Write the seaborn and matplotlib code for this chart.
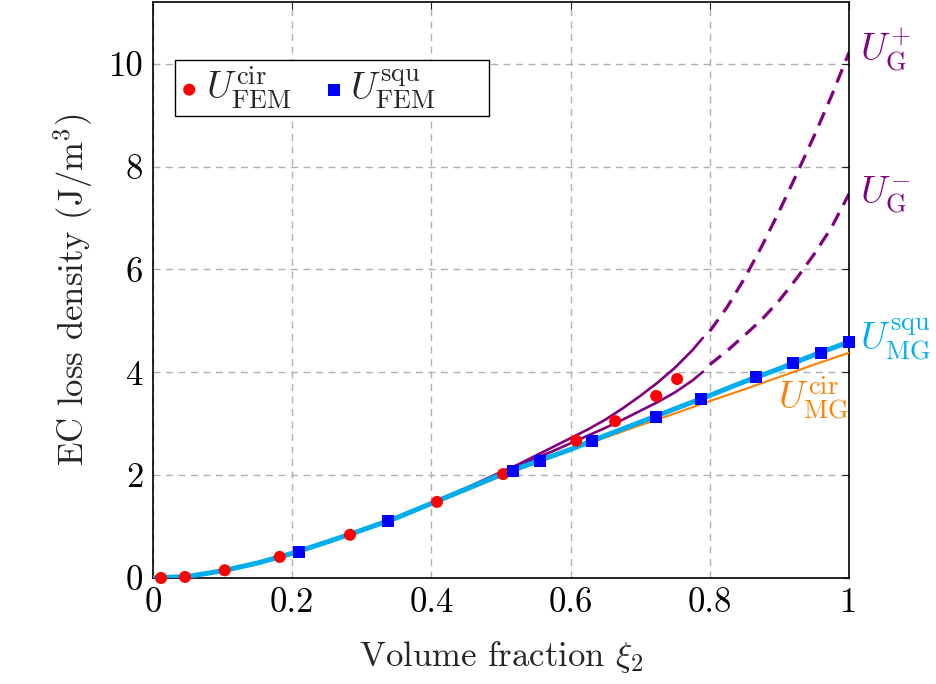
import numpy as np
import pandas as pd
import matplotlib
matplotlib.use("Agg")
import matplotlib.pyplot as plt
from matplotlib.patches import Rectangle
import seaborn as sns

# ---- data ----
x_grid = [0.0, 0.05, 0.1, 0.15, 0.2, 0.25, 0.3, 0.35, 0.4, 0.45, 0.5,
          0.55, 0.6, 0.65, 0.7, 0.75, 0.8, 0.85, 0.9, 0.95, 1.0]
mg_cir = [0.0, 0.03, 0.13, 0.28, 0.46, 0.68, 0.91, 1.16, 1.43, 1.70, 1.98,
          2.24, 2.49, 2.73, 2.97, 3.20, 3.44, 3.67, 3.91, 4.15, 4.38]
mg_squ = [0.0, 0.03, 0.14, 0.29, 0.48, 0.70, 0.93, 1.17, 1.45, 1.73, 2.01,
          2.26, 2.50, 2.77, 3.03, 3.29, 3.55, 3.82, 4.07, 4.34, 4.59]

g_x_solid = [0.0, 0.05, 0.1, 0.15, 0.2, 0.25, 0.3, 0.35, 0.4, 0.45, 0.5,
             0.525, 0.55, 0.575, 0.6, 0.625, 0.65, 0.675, 0.7, 0.725, 0.75,
             0.775, 0.79]
g_plus_solid = [0.0, 0.03, 0.14, 0.29, 0.48, 0.70, 0.93, 1.18, 1.46, 1.75, 2.06,
                2.21, 2.38, 2.55, 2.72, 2.89, 3.08, 3.30, 3.54, 3.80, 4.09,
                4.43, 4.67]
g_minus_solid = [0.0, 0.03, 0.14, 0.29, 0.48, 0.70, 0.93, 1.18, 1.46, 1.74, 2.04,
                 2.18, 2.33, 2.47, 2.62, 2.77, 2.92, 3.08, 3.25, 3.42, 3.61,
                 3.84, 4.01]
g_x_dash = [0.8, 0.825, 0.85, 0.875, 0.9, 0.925, 0.95, 0.975, 1.0]
g_plus_dash = [4.80, 5.27, 5.83, 6.46, 7.14, 7.86, 8.60, 9.38, 10.22]
g_minus_dash = [4.15, 4.42, 4.72, 5.03, 5.40, 5.83, 6.30, 6.82, 7.47]

fem_cir_x = [0.0115, 0.046, 0.103, 0.182, 0.283, 0.408, 0.503, 0.608, 0.664, 0.723, 0.753]
fem_cir_y = [0.0, 0.02, 0.15, 0.41, 0.84, 1.48, 2.02, 2.67, 3.05, 3.54, 3.87]
fem_squ_x = [0.21, 0.338, 0.517, 0.556, 0.631, 0.723, 0.787, 0.866, 0.920, 0.960, 1.0]
fem_squ_y = [0.51, 1.11, 2.08, 2.28, 2.67, 3.13, 3.48, 3.91, 4.18, 4.38, 4.59]

x_ticks = [0, 0.2, 0.4, 0.6, 0.8, 1]
x_ticklabels = ["0", "0.2", "0.4", "0.6", "0.8", "1"]
y_ticks = [0, 2, 4, 6, 8, 10]
y_ticklabels = ["0", "2", "4", "6", "8", "10"]

# ---- style ----
sns.set_theme(style="white")
plt.rcParams["font.family"] = ["cmr10", "DejaVu Serif"]
plt.rcParams["mathtext.fontset"] = "cm"
plt.rcParams["axes.unicode_minus"] = False

PURPLE = "#800080"
CYAN = "#00AEEF"
ORANGE = "#FF8000"
FS = 25

fig = plt.figure(figsize=(9.37, 6.84), dpi=100)
ax = fig.add_axes([0.1633, 0.155, 0.7428, 0.842])

sns.lineplot(x=g_x_solid, y=g_plus_solid, ax=ax, color=PURPLE, lw=1.9, zorder=2)
sns.lineplot(x=g_x_solid, y=g_minus_solid, ax=ax, color=PURPLE, lw=1.9, zorder=2)
sns.lineplot(x=g_x_dash, y=g_plus_dash, ax=ax, color=PURPLE, lw=2.3, zorder=2,
             linestyle=(0, (4.5, 2.8)))
sns.lineplot(x=g_x_dash, y=g_minus_dash, ax=ax, color=PURPLE, lw=2.3, zorder=2,
             linestyle=(0, (4.5, 2.8)))
sns.lineplot(x=x_grid, y=mg_cir, ax=ax, color=ORANGE, lw=1.5, zorder=3)
sns.lineplot(x=x_grid, y=mg_squ, ax=ax, color=CYAN, lw=3.6, zorder=4)

sns.scatterplot(x=fem_cir_x, y=fem_cir_y, ax=ax, color="#FF0000", marker="o",
                s=75, edgecolor="none", zorder=6, clip_on=False,
                label=r"$U_{\mathrm{FEM}}^{\mathrm{cir}}$")
sns.scatterplot(x=fem_squ_x, y=fem_squ_y, ax=ax, color="#0000FF", marker="s",
                s=75, edgecolor="none", zorder=6, clip_on=False,
                label=r"$U_{\mathrm{FEM}}^{\mathrm{squ}}$")

ax.set_xlim(0, 1)
ax.set_ylim(0, 11.2)
ax.set_xticks(x_ticks)
ax.set_xticklabels(x_ticklabels)
ax.set_yticks(y_ticks)
ax.set_yticklabels(y_ticklabels)
ax.tick_params(axis="both", direction="in", length=5, width=0.8, labelsize=FS,
               top=True, right=True, colors="#222222", labelcolor="black", pad=7)
ax.grid(True, color="#b0b0b0", linestyle=(0, (5, 4)), lw=1.0)
ax.set_axisbelow(True)
for sp in ax.spines.values():
    sp.set_color("black")
    sp.set_linewidth(1.2)

ax.set_xlabel(r"Volume fraction $\xi_2$", fontsize=FS, labelpad=14)
ax.set_ylabel(r"EC loss density (J/m$^3$)", fontsize=FS, labelpad=10)

# legend box (pgfplots style, with extra room on the right)
ax.add_patch(Rectangle((0.0316, 0.802), 0.4512, 0.097, transform=ax.transAxes,
                       facecolor="white", edgecolor="black", lw=1.0, zorder=7))
leg = ax.legend(loc="center left", bbox_to_anchor=(0.0359, 0.8507), ncol=2,
                fontsize=27, frameon=False,
                handletextpad=0.14, columnspacing=0.83, borderpad=0.0,
                handlelength=0.6, markerscale=1.0, borderaxespad=0)
leg.set_zorder(8)

ax.text(1.016, 10.27, r"$U_{\mathrm{G}}^{+}$", color=PURPLE, fontsize=27,
        va="center", ha="left", clip_on=False)
ax.text(1.016, 7.45, r"$U_{\mathrm{G}}^{-}$", color=PURPLE, fontsize=27,
        va="center", ha="left", clip_on=False)
ax.text(1.016, 4.63, r"$U_{\mathrm{MG}}^{\mathrm{squ}}$", color=CYAN, fontsize=27,
        va="center", ha="left", clip_on=False)
ax.text(1.0, 3.5, r"$U_{\mathrm{MG}}^{\mathrm{cir}}$", color=ORANGE, fontsize=27,
        va="center", ha="right", clip_on=False)

fig.savefig("out.png", dpi=100)
